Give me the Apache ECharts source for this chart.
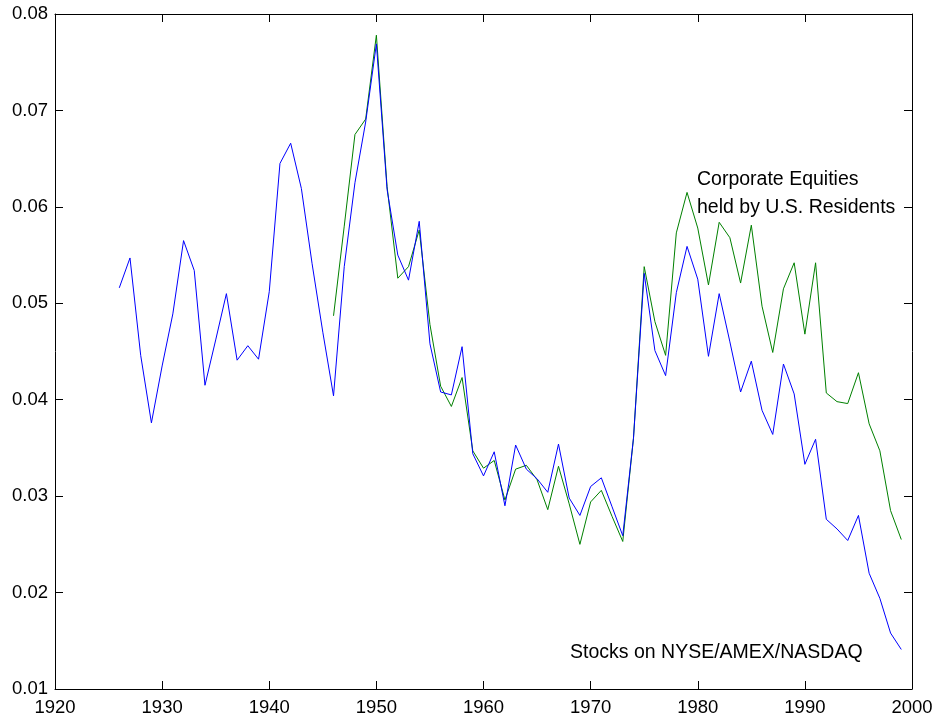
<!DOCTYPE html>
<html>
<head>
<meta charset="utf-8">
<script src="https://cdn.jsdelivr.net/npm/echarts@6/dist/echarts.min.js"></script>
<style>
html,body{margin:0;padding:0;background:#fff;}
#chart{width:940px;height:724px;}
</style>
</head>
<body>
<div id="chart"></div>
<script>
const stockYears = [1926,1927,1928,1929,1930,1931,1932,1933,1934,1935,1936,1937,1938,1939,1940,1941,1942,1943,1944,1945,1946,1947,1948,1949,1950,1951,1952,1953,1954,1955,1956,1957,1958,1959,1960,1961,1962,1963,1964,1965,1966,1967,1968,1969,1970,1971,1972,1973,1974,1975,1976,1977,1978,1979,1980,1981,1982,1983,1984,1985,1986,1987,1988,1989,1990,1991,1992,1993,1994,1995,1996,1997,1998,1999];
const stockValues = [0.0516,0.0547,0.0446,0.0376,0.0435,0.0489,0.0565,0.0534,0.0415,0.0462,0.0510,0.0441,0.0456,0.0442,0.0512,0.0645,0.0666,0.0619,0.0541,0.0470,0.0404,0.0538,0.0625,0.0688,0.0769,0.0618,0.0550,0.0524,0.0585,0.0458,0.0408,0.0405,0.0455,0.0344,0.0321,0.0346,0.0290,0.0353,0.0328,0.0318,0.0304,0.0354,0.0298,0.0280,0.0310,0.0319,0.0289,0.0259,0.0360,0.0531,0.0451,0.0425,0.0511,0.0559,0.0525,0.0445,0.0510,0.0460,0.0408,0.0440,0.0389,0.0364,0.0437,0.0406,0.0333,0.0359,0.0276,0.0266,0.0254,0.0280,0.0220,0.0194,0.0158,0.0141];
const equityYears = [1946,1947,1948,1949,1950,1951,1952,1953,1954,1955,1956,1957,1958,1959,1960,1961,1962,1963,1964,1965,1966,1967,1968,1969,1970,1971,1972,1973,1974,1975,1976,1977,1978,1979,1980,1981,1982,1983,1984,1985,1986,1987,1988,1989,1990,1991,1992,1993,1994,1995,1996,1997,1998,1999];
const equityValues = [0.0487,0.0580,0.0675,0.0691,0.0778,0.0621,0.0526,0.0538,0.0576,0.0478,0.0414,0.0393,0.0423,0.0347,0.0329,0.0337,0.0296,0.0328,0.0332,0.0317,0.0286,0.0331,0.0292,0.0250,0.0294,0.0306,0.0279,0.0253,0.0360,0.0538,0.0481,0.0446,0.0573,0.0615,0.0578,0.0519,0.0584,0.0568,0.0521,0.0581,0.0497,0.0449,0.0515,0.0542,0.0468,0.0542,0.0407,0.0398,0.0396,0.0428,0.0375,0.0347,0.0285,0.0255];
const xTicks = {min:1920, max:2000, step:10};
const yTicks = {min:0.01, max:0.08, step:0.01};
const labelStocks = 'Stocks on NYSE/AMEX/NASDAQ';
const labelEquities = ['Corporate Equities', 'held by U.S. Residents'];

const FONT = '"Liberation Sans", Arial, Helvetica, sans-serif';
const chart = echarts.init(document.getElementById('chart'), null, {renderer:'canvas'});
const lineStyleAxis = {show:true, lineStyle:{color:'#000', width:1}};
const tickIn = {show:true, inside:true, length:8, lineStyle:{color:'#000', width:1}};

const option = {
  animation:false,
  backgroundColor:'#fff',
  grid:{left:55, right:28, top:14, bottom:35, containLabel:false},
  xAxis:[
    {type:'value', position:'bottom', min:xTicks.min, max:xTicks.max, interval:xTicks.step,
     axisLine:lineStyleAxis, axisTick:tickIn, splitLine:{show:false},
     axisLabel:{color:'#000', fontFamily:FONT, fontSize:18.5, margin:9, formatter:v=>String(v)}},
    {type:'value', position:'top', min:xTicks.min, max:xTicks.max, interval:xTicks.step,
     axisLine:lineStyleAxis, axisTick:tickIn, splitLine:{show:false}, axisLabel:{show:false}}
  ],
  yAxis:[
    {type:'value', position:'left', min:yTicks.min, max:yTicks.max, interval:yTicks.step,
     axisLine:lineStyleAxis, axisTick:tickIn, splitLine:{show:false},
     axisLabel:{color:'#000', fontFamily:FONT, fontSize:18.5, margin:7, formatter:v=>v.toFixed(2)}},
    {type:'value', position:'right', min:yTicks.min, max:yTicks.max, interval:yTicks.step,
     axisLine:lineStyleAxis, axisTick:tickIn, splitLine:{show:false}, axisLabel:{show:false}}
  ],
  series:[
    {type:'line', xAxisIndex:0, yAxisIndex:0, showSymbol:false, symbol:'none',
     data:stockYears.map((y,i)=>[y, stockValues[i]]),
     lineStyle:{color:'#0000ff', width:1}, itemStyle:{color:'#0000ff'}, z:3},
    {type:'line', xAxisIndex:0, yAxisIndex:0, showSymbol:false, symbol:'none',
     data:equityYears.map((y,i)=>[y, equityValues[i]]),
     lineStyle:{color:'#008000', width:1}, itemStyle:{color:'#008000'}, z:2}
  ],
  graphic:[
    {type:'text', left:697, top:170, style:{text:labelEquities[0], font:'19.5px '+FONT, fill:'#000'}},
    {type:'text', left:697, top:198, style:{text:labelEquities[1], font:'19.5px '+FONT, fill:'#000'}},
    {type:'text', left:570, top:643, style:{text:labelStocks, font:'19.5px '+FONT, fill:'#000'}}
  ]
};
chart.setOption(option);
</script>
</body>
</html>
